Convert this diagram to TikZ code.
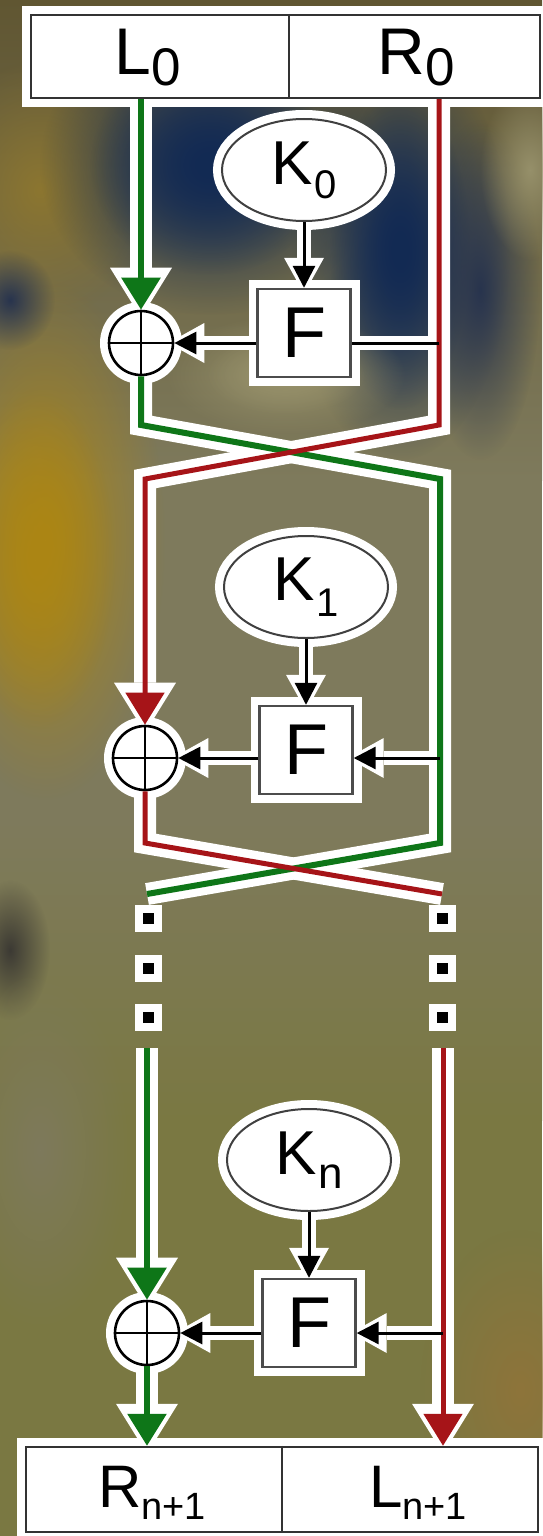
\documentclass[tikz,border=0pt]{standalone}
\usepackage{fontspec}
\setmainfont{Liberation Sans}
\usetikzlibrary{arrows.meta,shapes.geometric,fadings}

\definecolor{fgreen}{RGB}{14,118,24}
\definecolor{fred}{RGB}{166,20,24}
\definecolor{bgtop}{RGB}{96,86,50}
\definecolor{bgmid}{RGB}{126,122,92}
\definecolor{bglow}{RGB}{122,120,66}
\definecolor{bgyellow}{RGB}{172,134,20}
\definecolor{bgochre}{RGB}{140,118,48}
\definecolor{bgnavy}{RGB}{18,42,84}
\definecolor{bgkhaki}{RGB}{150,144,106}
\definecolor{bgslate}{RGB}{40,52,78}
\definecolor{bgdark}{RGB}{60,58,52}
\definecolor{bgbrown}{RGB}{142,116,58}

\newcommand{\lowidx}[3]{\raisebox{#1}{\fontsize{#2}{#2}\selectfont #3}}

\pgfdeclarelayer{photo}
\pgfdeclarelayer{halo}
\pgfsetlayers{photo,halo,main}

\tikzfading[name=softblob, inner color=transparent!0, outer color=transparent!100]

\tikzset{
  gline/.style={draw=fgreen, line width=3pt},
  rline/.style={draw=fred, line width=2.5pt},
  kline/.style={draw=black, line width=1.5pt},
  bigtip/.style={-{Triangle[length=16pt,width=19pt]}},
  smalltip/.style={-{Triangle[length=11pt,width=11pt]}},
  haloed/.style={preaction={draw=white, line width=9pt}, draw=#1},
  haloed/.default=black!80,
  regbox/.style={rectangle, haloed, line width=1.2pt, fill=white, minimum height=41.5pt, inner sep=0pt},
  reglabel/.style={inner sep=0pt, font=\fontsize{33}{33}\selectfont},
  outlabel/.style={inner sep=0pt, font=\fontsize{30}{30}\selectfont},
  keybox/.style={ellipse, haloed=black!75, line width=1pt, fill=white, minimum width=82pt, minimum height=51pt, inner sep=0pt, font=\fontsize{31}{31}\selectfont},
  fnbox/.style={rectangle, haloed=black!70, line width=1.2pt, fill=white, minimum width=46.5pt, minimum height=44pt, inner sep=0pt, font=\fontsize{36}{36}\selectfont},
  xorop/.style={circle, haloed=black, line width=1.3pt, fill=white, minimum size=32pt, inner sep=0pt,
    path picture={\draw[black, line width=1.2pt] (path picture bounding box.north) -- (path picture bounding box.south)
      (path picture bounding box.west) -- (path picture bounding box.east);}},
  dotsq/.style={rectangle, fill=black, minimum size=5.5pt, inner sep=0pt, preaction={draw=white, line width=8pt}},
}

% all connectors; drawn twice, once as white halo
\newcommand{\feistelwires}{%
  % round 0
  \draw[gline, bigtip] (top.south -| x0) -- (x0);
  \draw[gline] (x0) -- (bL1) -- (eR1) -- (bR2) -- (eL2);
  \draw[rline, bigtip] (top.south -| bR1) -- (bR1) -- (eL1) -- (x1);
  \draw[kline] (x0 -| bR1) -- (f0.east |- x0);
  \draw[kline, smalltip] (f0.west |- x0) -- (x0);
  \draw[kline, smalltip] (k0) -- (f0);
  % round 1
  \draw[rline] (x1) -- (bL2) -- (eR2);
  \draw[kline, smalltip] (x1 -| eR1) -- (f1.east |- x1);
  \draw[kline, smalltip] (f1.west |- x1) -- (x1);
  \draw[kline, smalltip] (k1) -- (f1);
  % round n
  \draw[gline, bigtip] (sL) -- (xn);
  \draw[gline, bigtip] (xn) -- (bot.north -| xn);
  \draw[rline, bigtip] (sR) -- (bot.north -| sR);
  \draw[kline, smalltip] (xn -| sR) -- (fn.east |- xn);
  \draw[kline, smalltip] (fn.west |- xn) -- (xn);
  \draw[kline, smalltip] (kn) -- (fn);
}

\begin{document}
\begin{tikzpicture}[x=0.5pt,y=-0.5pt]
\useasboundingbox (0,0) rectangle (542,1536);

% blurred photo behind the diagram
\begin{pgfonlayer}{photo}
\fill[bgmid] (0,0) rectangle (542,1536);
\shade[top color=bgtop, bottom color=bgmid] (0,0) rectangle (542,480);
\shade[top color=bgmid, bottom color=bglow] (0,820) rectangle (542,1120);
\fill[bglow] (0,1120) rectangle (542,1536);
\foreach \cx/\cy/\rx/\ry/\col in {45/540/120/260/bgyellow, 35/560/80/170/bgyellow, 40/190/110/130/bgochre,
    10/300/45/50/bgslate, 210/165/170/150/bgnavy, 210/165/120/110/bgnavy, 400/250/110/210/bgnavy,
    400/250/70/160/bgnavy, 285/375/120/60/bgkhaki, 285/375/80/40/bgkhaki, 480/290/60/170/bgslate,
    530/170/50/90/bgkhaki, 10/950/40/70/bgdark, 520/1390/100/160/bgbrown, 40/1150/90/180/bgmid}
  \fill[\col, path fading=softblob] (\cx,\cy) ellipse [x radius=\rx, y radius=\ry];
\end{pgfonlayer}

% input and output halves
\node[regbox, minimum width=254.5pt] (top) at (285.5,56.5) {};
\draw[line width=1.2pt, black!80] ([xshift=1.75pt]top.north) -- ([xshift=1.75pt]top.south);
\node[reglabel] (l0) at (148,58) {L\lowidx{-5.5pt}{26.5}{0}};
\node[reglabel] (r0) at (416,58) {R\lowidx{-5.5pt}{26.5}{0}};

\node[regbox, minimum width=256pt, minimum height=42.5pt] (bot) at (282,1489.5) {};
\draw[line width=1.2pt, black!80] (bot.north) -- (bot.south);
\node[outlabel] (rn) at (152,1493) {R\lowidx{-6pt}{19}{n+1}};
\node[outlabel] (ln) at (418,1493) {L\lowidx{-6pt}{19}{n+1}};

% rounds
\node[keybox] (k0) at (304,170) {K\kern1pt\lowidx{-7pt}{20}{0}};
\node[fnbox] (f0) at (304,333) {F};
\node[xorop] (x0) at (141,343) {};

\node[keybox] (k1) at (306,587) {K\kern1pt\lowidx{-8pt}{20}{1}};
\node[fnbox] (f1) at (306,750) {F};
\node[xorop] (x1) at (145,758) {};

\node[keybox] (kn) at (309,1160) {K\kern1pt\lowidx{-7pt}{22}{n}};
\node[fnbox] (fn) at (309,1323) {F};
\node[xorop] (xn) at (147,1333) {};

% bends of the swaps
\coordinate (bL1) at (141,425);
\coordinate (bR1) at (439,425);
\coordinate (eL1) at (145,479);
\coordinate (eR1) at (440,479);
\coordinate (bL2) at (145,843);
\coordinate (bR2) at (440,843);
\coordinate (eL2) at (147,894);
\coordinate (eR2) at (442,894);
\coordinate (sL) at (147,1048);
\coordinate (sR) at (443,1048);

% the rounds that are left out
\foreach \y [count=\i] in {918,968,1017} {
  \node[dotsq] (dL\i) at (148,\y) {};
  \node[dotsq] (dR\i) at (442,\y) {};
}

\begin{pgfonlayer}{halo}
\begin{scope}[gline/.style={draw=white, line width=11pt},
    rline/.style={draw=white, line width=11pt},
    kline/.style={draw=white, line width=7pt},
    bigtip/.style={-{Triangle[length=25pt,width=31pt,line width=0pt]}, shorten >=-4pt},
    smalltip/.style={-{Triangle[length=18pt,width=20pt,line width=0pt]}, shorten >=-3pt}]
\feistelwires
\end{scope}
\end{pgfonlayer}
\feistelwires
\end{tikzpicture}
\end{document}
